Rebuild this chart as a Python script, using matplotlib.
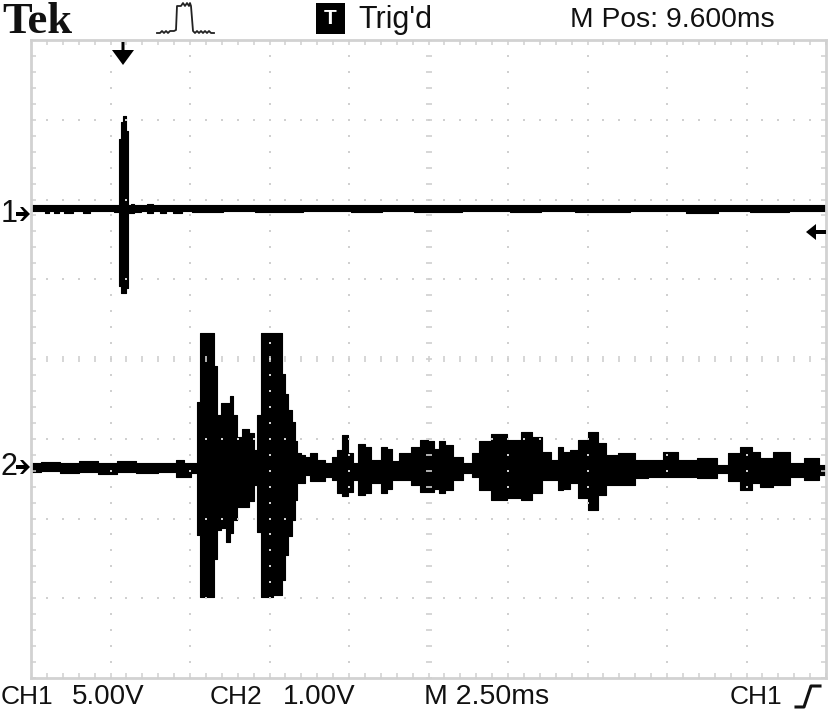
# -*- coding:utf-8 -*-
"""
Tek scope screen, CH1 trigger pulse and CH2 burst envelope
"""
from matplotlib import pyplot as plt
from matplotlib.patches import Polygon, Rectangle
from matplotlib.transforms import Affine2D
import numpy as np

# time in ms from left edge of screen, envelope in volts
ch1_t = [0, 0.4, 0.45, 0.7, 0.75, 1.0, 1.05, 1.6, 1.7, 2.0, 2.5, 2.75, 2.78, 2.85, 2.95, 3.05, 3.08, 3.2, 3.3, 3.6, 3.7,
         4.0, 4.1, 4.4, 4.5, 5.0, 5.1, 7.0, 7.1, 10.0, 10.1, 12.0, 12.1, 15.0, 15.1, 17.0, 17.2, 20.5, 20.7, 22.5, 22.7, 25]
ch1_top = [0.16, 0.16, 0.16, 0.16, 0.16, 0.16, 0.16, 0.16, 0.16, 0.16, 0.16, 0.16, 4.3, 5.4, 5.75, 4.8, 0.22, 0.25, 0.22, 0.16, 0.25,
           0.16, 0.22, 0.16, 0.22, 0.16, 0.16, 0.16, 0.2, 0.16, 0.2, 0.16, 0.2, 0.16, 0.2, 0.16, 0.2, 0.16, 0.22, 0.16, 0.22, 0.16]
ch1_bot = [-0.16, -0.16, -0.3, -0.16, -0.3, -0.16, -0.3, -0.16, -0.32, -0.18, -0.16, -0.25, -4.9, -5.35, -5.35, -5.0, -0.32, -0.34, -0.22, -0.2, -0.32,
           -0.18, -0.32, -0.18, -0.3, -0.16, -0.24, -0.16, -0.24, -0.16, -0.26, -0.16, -0.24, -0.16, -0.26, -0.16, -0.26, -0.16, -0.3, -0.18, -0.28, -0.16]

ch2_t = [0, 0.6, 1.2, 1.8, 2.4, 3.0, 3.6, 4.37, 4.74, 4.90, 5.16, 5.26, 5.37, 5.73, 5.79, 5.89, 6.05, 6.21, 6.31,
         6.42, 6.52, 6.78, 6.94, 7.08, 7.15, 7.31, 7.88, 7.93, 8.04, 8.14, 8.25, 8.35, 8.41, 8.56, 8.67, 8.88,
         9.09, 9.40, 9.51, 9.72, 9.87, 10.08, 10.19, 10.40, 10.61, 10.77, 10.92, 11.08, 11.29, 11.39, 11.76,
         12.13, 12.34, 12.60, 12.76, 12.91, 13.12, 13.39, 13.75, 13.96, 14.22, 14.70, 15.22, 15.59, 15.90,
         16.22, 16.48, 16.64, 16.79, 17.11, 17.32, 17.68, 18.00, 18.16, 18.73, 19.26, 19.52, 20.20, 20.51,
         21.40, 21.72, 22.09, 22.50, 22.82, 23.03, 23.66, 24.08, 24.55, 25]
ch2_top = [0.05, 0.06, 0.05, 0.08, 0.05, 0.07, 0.05, 0.05, 0.09, 0.05, 0.05, 0.81, 1.68, 1.68, 1.26, 0.65, 0.80, 0.80, 0.89,
           0.65, 0.38, 0.48, 0.42, 0.21, 0.65, 1.68, 1.68, 1.17, 0.92, 0.71, 0.57, 0.32, 0.17, 0.15, 0.13, 0.17,
           0.09, 0.05, 0.13, 0.21, 0.40, 0.17, 0.05, 0.29, 0.25, 0.09, 0.09, 0.25, 0.23, 0.07, 0.17,
           0.25, 0.34, 0.33, 0.23, 0.32, 0.28, 0.13, 0.05, 0.17, 0.32, 0.41, 0.34, 0.44, 0.38,
           0.19, 0.09, 0.25, 0.19, 0.21, 0.34, 0.44, 0.30, 0.15, 0.17, 0.09, 0.09, 0.19, 0.09,
           0.11, 0.03, 0.17, 0.25, 0.19, 0.11, 0.19, 0.05, 0.11, 0.03]
ch2_bot = [-0.06, -0.05, -0.07, -0.06, -0.09, -0.06, -0.08, -0.06, -0.12, -0.12, -0.08, -0.85, -1.63, -1.63, -1.15, -0.79, -0.77, -0.94, -0.83,
           -0.66, -0.50, -0.50, -0.43, -0.23, -0.81, -1.63, -1.61, -1.42, -1.10, -0.87, -0.66, -0.41, -0.20, -0.20, -0.10, -0.18,
           -0.18, -0.12, -0.16, -0.33, -0.37, -0.31, -0.16, -0.35, -0.33, -0.20, -0.20, -0.33, -0.27, -0.16, -0.16,
           -0.23, -0.31, -0.31, -0.27, -0.33, -0.29, -0.16, -0.08, -0.12, -0.29, -0.41, -0.39, -0.41, -0.33,
           -0.16, -0.16, -0.29, -0.27, -0.20, -0.39, -0.54, -0.35, -0.23, -0.23, -0.14, -0.12, -0.12, -0.12,
           -0.14, -0.08, -0.18, -0.29, -0.20, -0.25, -0.23, -0.12, -0.16, -0.10]

ms_per_div = 2.50
ch1_v_per_div = 5.00
ch2_v_per_div = 1.00
ch1_pos = 1.893
ch2_pos = -1.354
n_xdiv = 10
n_ydiv = 8

GRID = '#d0d0d0'
W, H = 830, 711

fig = plt.figure(figsize=(W / 100, H / 100), dpi=100)
ax = fig.add_axes([31 / W, 1 - 678 / H, 795 / W, 638 / H])
ax.set_xlim(0, n_xdiv * ms_per_div)
ax.set_ylim(-n_ydiv / 2, n_ydiv / 2)
ax.set_xticks([])
ax.set_yticks([])
for s in ax.spines.values():
    s.set_color('#d2d2d2')
    s.set_linewidth(2)

# traces
ax.fill_between(ch1_t, np.array(ch1_bot) / ch1_v_per_div + ch1_pos, np.array(ch1_top) / ch1_v_per_div + ch1_pos,
                color='black', lw=0.8, zorder=2, step='mid')
ax.fill_between(ch2_t, np.array(ch2_bot) / ch2_v_per_div + ch2_pos, np.array(ch2_top) / ch2_v_per_div + ch2_pos,
                color='black', lw=0.8, zorder=2, step='mid')

# graticule dots, drawn over the traces
xdots = np.arange(0, n_xdiv * 5 + 1) * ms_per_div / 5
ydots = np.arange(-n_ydiv * 5 // 2, n_ydiv * 5 // 2 + 1) / 5
for k in range(1, n_xdiv):
    x0 = k * ms_per_div
    m = '_' if k == n_xdiv // 2 else 's'
    ax.plot(np.full(ydots.size, x0), ydots, ls='', marker=m, ms=5 if m == '_' else 2, mew=1.2 if m == '_' else 0,
            color=GRID, zorder=3)
for k in range(-n_ydiv // 2 + 1, n_ydiv // 2):
    m = '|' if k == 0 else 's'
    ax.plot(xdots, np.full(xdots.size, k), ls='', marker=m, ms=5 if m == '|' else 2, mew=1.2 if m == '|' else 0,
            color=GRID, zorder=3)
# border ticks
ax.plot(np.zeros(ydots.size), ydots, ls='', marker='_', ms=7, mew=1.1, color=GRID, zorder=3)
ax.plot(np.full(ydots.size, n_xdiv * ms_per_div), ydots, ls='', marker='_', ms=7, mew=1.1, color=GRID, zorder=3)
ax.plot(xdots, np.full(xdots.size, -n_ydiv / 2), ls='', marker='|', ms=7, mew=1.1, color=GRID, zorder=3)
ax.plot(xdots, np.full(xdots.size, n_ydiv / 2), ls='', marker='|', ms=7, mew=1.1, color=GRID, zorder=3)

# everything round the screen is placed in image pixels
px = Affine2D().scale(1 / W, -1 / H).translate(0, 1) + fig.transFigure
sans = ['Liberation Sans', 'DejaVu Sans']


def label(x, y, s, size=20, ha='left', **kw):
    kw.setdefault('family', sans)
    fig.text(x, y, s, transform=px, fontsize=size, ha=ha, va='baseline', color='#111111', **kw)


def poly(pts, color='black'):
    fig.add_artist(Polygon(pts, closed=True, transform=px, color=color, lw=0))


label(2, 33, 'Tek', size=32, family=['Liberation Serif'], fontweight='bold')
label(358, 28, "Trig'd", size=22)
label(570, 27, 'M Pos: 9.600ms', size=20.3)
label(1, 704, 'CH1', size=19)
label(72, 704, '5.00V', size=20)
label(210, 704, 'CH2', size=19)
label(283, 704, '1.00V', size=20)
label(424, 704, 'M 2.50ms', size=20.5)
label(730, 704, 'CH1', size=19)

# T box
fig.add_artist(Rectangle((316, 3), 29, 31, transform=px, color='black', lw=0))
fig.text(330.5, 18.5, 'T', transform=px, fontsize=15, color='white', ha='center', va='center',
         family='Liberation Sans', fontweight='bold')

# acquisition symbol
fig.add_artist(plt.Line2D([157, 160, 162, 164, 166, 168, 170, 172, 174, 176, 177, 181, 183, 185, 187, 189, 190, 191, 193, 195,
                           197, 199, 201, 203, 205, 207, 209, 211, 214],
                          [33, 33, 31, 33, 31, 33, 31, 31, 31, 30, 6, 6, 3, 6, 3, 6, 3, 6, 31, 33,
                           31, 33, 31, 33, 31, 33, 31, 33, 33],
                          transform=px, color='#222222', lw=1.3))

# trigger position, trigger level, channel markers, slope
poly([(121.5, 42), (124.5, 42), (124.5, 50), (134, 50), (123, 65), (112, 50), (121.5, 50)])
poly([(826, 230), (816, 230), (816, 224), (806, 232), (816, 240), (816, 234), (826, 234)])
label(1, 222, '1', size=22)
poly([(20, 207), (23, 207), (30, 214), (23, 221), (20, 221), (24, 216), (16, 216), (16, 212), (24, 212)])
label(0, 475, '2', size=22)
poly([(20, 460), (23, 460), (30, 467), (23, 474), (20, 474), (24, 469), (16, 469), (16, 465), (24, 465)])
fig.add_artist(plt.Line2D([796, 804, 811, 820], [707, 707, 686, 686], transform=px, color='#111111', lw=2.2))

plt.savefig('out.png', dpi=100)
